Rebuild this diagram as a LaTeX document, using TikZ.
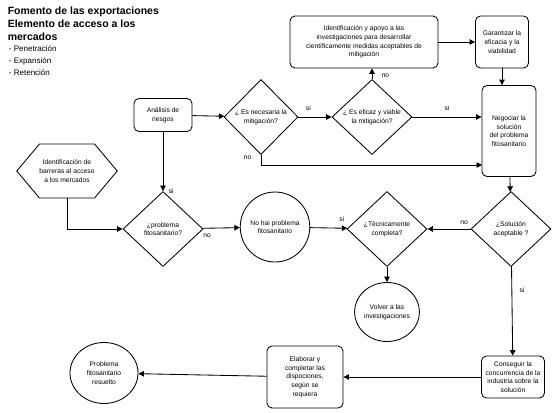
\documentclass[tikz,border=0pt]{standalone}
\usepackage{fontspec}
\setmainfont{Liberation Sans}
\usetikzlibrary{shapes.geometric,shapes.symbols,arrows.meta}

\tikzset{
  box/.style={draw, rounded corners=5pt, align=center, inner sep=1pt},
  decision/.style={draw, diamond, minimum width=80pt, minimum height=75pt, inner sep=0pt, align=center},
  terminal/.style={draw, ellipse, inner sep=0pt, align=center},
  flow/.style={-{Triangle[length=5.5pt,width=5.5pt]}},
}

\begin{document}
\begin{tikzpicture}[x=1pt, y=-1pt, line width=0.85pt,
  every node/.style={font=\fontsize{6.7}{8.7}\selectfont}]
\useasboundingbox (0,0) rectangle (553,412);
\node[anchor=north west, align=left, font=\fontsize{10.5}{13}\selectfont\bfseries] (title) at (4,3)
  {Fomento de las exportaciones\\Elemento de acceso a los\\mercados};
\node[anchor=north west, align=left, font=\fontsize{8}{12}\selectfont] (kinds) at (3,42)
  {\ - Penetración\\\ - Expansión\\\ - Retención};

\node[box, minimum width=58pt, minimum height=33pt] (ana) at (163,115) {Análisis de\\riesgos};
\node[decision, minimum width=74pt] (nec) at (261,117) {¿ Es necesaria la\\mitigación?};
\node[decision] (efi) at (372,117) {¿ Es eficaz y viable\\la mitigación?};
\node[box, minimum width=148pt, minimum height=52pt] (ide) at (364,42)
  {Identificación y apoyo a las\\investigaciones para desarrollar\\científicamente medidas aceptables de\\mitigación};
\node[box, minimum width=53pt, minimum height=52pt] (gar) at (502,42) {Garantizar la\\eficacia y la\\viabilidad};
\node[box, minimum width=54pt, minimum height=91pt] (neg) at (509,131) {Negociar la\\solución\\del problema\\fitosanitario};
\coordinate (negno) at (482,165);

\node[draw, shape=signal, signal to=west and east, signal pointer angle=100, align=center,
  minimum width=89pt, minimum height=54pt, inner sep=0pt] (hex) at (67,171)
  {Identificación de\\barreras al acceso\\a los mercados};
\node[decision] (pro) at (163,229) {¿problema\\fitosanitario?};
\node[terminal, minimum width=69pt, minimum height=70pt] (nohai) at (275,227) {No hai problema\\fitosanitario};
\node[decision] (tec) at (387,229) {¿Técnicamente\\completa?};
\node[decision] (sol) at (511,229) {¿Solución\\aceptable ?};
\node[terminal, minimum width=52pt, minimum height=59pt] (vol) at (387,312) {Volver a las\\investigaciones};

\node[box, minimum width=63pt, minimum height=42pt] (con) at (513,377) {Conseguir la\\concurrencia de la\\industria sobre la\\solución};
\node[box, minimum width=76pt, minimum height=62pt] (ela) at (305,377) {Elaborar y\\completar las\\dispociones,\\según se\\requiera};
\node[terminal, minimum width=68pt, minimum height=61pt] (res) at (104,373) {Problema\\fitosanitario\\resuelto};

% connectors
\draw[flow] (ana) -- (nec);
\draw[flow] (nec) -- (efi) node[pos=0.3, above=3pt] {si};
\draw[flow] (efi.east) -- (efi.east -| neg.west) node[midway, above=3pt] {si};
\draw[flow] (efi.north) -- (efi.north |- ide.south) node[pos=0.35, right=6pt] {no};
\draw[flow] (ide) -- (gar);
\draw[flow] (gar.south) -- (gar.south |- neg.north);
\draw[flow] (nec.south) |- (negno) node[pos=0.15, left=6pt] {no};
\draw[flow] (ana) -- (pro) node[pos=1, right=2pt] {si};
\draw[flow] (hex.south) |- (pro.west);
\draw[flow] (pro) -- (nohai) node[pos=0.12, below=2pt] {no};
\draw[flow] (nohai) -- (tec) node[pos=0.85, above=3pt] {si};
\draw[flow] (neg) -- (sol);
\draw[flow] (sol) -- (tec) node[pos=0.15, above=1pt] {no};
\draw[flow] (tec) -- (vol);
\draw[flow] (sol) -- (con) node[pos=0.26, right=4pt] {si};
\draw[flow] (con) -- (ela);
\draw[flow] (ela) -- (res);
\end{tikzpicture}
\end{document}
